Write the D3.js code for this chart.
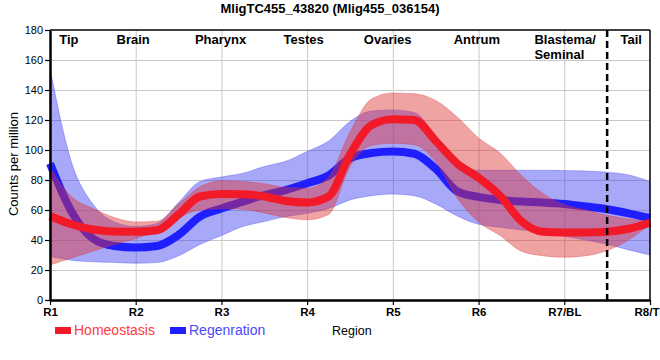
<!DOCTYPE html>
<html><head><meta charset="utf-8">
<script src="https://cdn.jsdelivr.net/npm/d3@7"></script>
<style>
body{margin:0;background:#fff}
svg{display:block;font-family:"Liberation Sans",Arial,Helvetica,sans-serif}
</style>
</head><body>
<svg id="chart" width="660" height="360"></svg>
<script>
// ---- data ----
const title = "MligTC455_43820 (Mlig455_036154)";
const regionTicks = [1, 2, 3, 4, 5, 6, 7, 8];
const regionTickLabels = ["R1", "R2", "R3", "R4", "R5", "R6", "R7/BL", "R8/TL"];
const yTicks = [0, 20, 40, 60, 80, 100, 120, 140, 160, 180];
const organNames = ["Tip", "Brain", "Pharynx", "Testes", "Ovaries", "Antrum", "Blastema/|Seminal", "Tail"];
const organAt = [1.22, 1.97, 2.99, 3.96, 4.94, 5.98, 7.01, 7.78];
const tailBoundary = 7.5;

const positions = [1, 1.25, 1.5, 1.75, 2, 2.25, 2.5, 2.75, 3, 3.25, 3.5, 3.75, 4, 4.25, 4.5, 4.75,
                   5, 5.25, 5.5, 5.75, 6, 6.25, 6.5, 6.75, 7, 7.25, 7.5, 7.75, 8];

const homeoMean  = [56, 50.5, 47, 45.7, 45.5, 46.5, 57, 69, 70.7, 70.5, 69, 66, 65, 69, 97, 116.5,
                    120.5, 120, 106, 91, 81.5, 69.5, 52.5, 45.5, 45, 45, 45.5, 47.5, 51.5];
const homeoUpper = [88, 69, 61, 55, 52, 52.5, 64, 75.5, 79.5, 79, 77.5, 75, 74.5, 82, 112, 134,
                    138, 137.5, 133, 122, 108, 98, 83, 71, 63.5, 60, 56.5, 54, 52.5];
const homeoLower = [23.3, 28, 32.5, 37, 41, 46.5, 55, 60, 61, 60.5, 58, 55, 53.5, 57, 89, 103,
                    104.5, 103.5, 92, 68, 52, 43, 32.5, 29.5, 28.5, 29.5, 33, 40, 50.5];

const regenMean  = [91, 59, 41, 36, 35, 36, 43.4, 55.6, 61, 65.6, 70, 73.3, 77.8, 83, 94.4, 98,
                    99, 97.5, 87.5, 72.5, 68.7, 66.7, 65.6, 65, 64, 62.3, 60.5, 57.8, 54.5];
const regenUpper = [154.5, 92, 64, 52, 49, 51, 65, 79, 82, 84.5, 89, 92.5, 99, 106, 119, 126,
                    126.7, 125, 109, 89, 86.5, 86.5, 86.5, 86.5, 86.3, 86, 85.2, 83.4, 79];
const regenLower = [29, 26.5, 25.5, 25, 24.5, 25, 29.5, 37, 43, 49, 52.3, 55.6, 57.8, 61, 66.7, 69.5,
                    70.6, 69.5, 64, 56, 50.5, 48.5, 46.7, 45, 42.5, 40, 37.2, 33.4, 30];

const seriesNames = ["Homeostasis", "Regenration"];

// ---- layout ----
const svg = d3.select("#chart");
const L = 50, R = 650, T = 30, B = 300;
const x = d3.scaleLinear().domain([1, 8]).range([L, R]);
const y = d3.scaleLinear().domain([0, 180]).range([B, T]);

const redLine = "#f21a28", blueLine = "#1e1eff";
const redFill = "rgb(222,52,52)", blueFill = "rgb(62,62,242)";

// gridlines
svg.append("g").attr("transform", `translate(0,${B})`)
  .call(d3.axisBottom(x).tickValues(regionTicks.slice(1, -1)).tickSize(-(B - T)).tickFormat(""))
  .call(g => g.select(".domain").remove())
  .call(g => g.selectAll("line").attr("stroke", "#c9c9c9").attr("stroke-width", 1));
svg.append("g").attr("transform", `translate(${L},0)`)
  .call(d3.axisLeft(y).tickValues(yTicks.slice(1, -1)).tickSize(-(R - L)).tickFormat(""))
  .call(g => g.select(".domain").remove())
  .call(g => g.selectAll("line").attr("stroke", "#c9c9c9").attr("stroke-width", 1));

// series helpers
function rows(mean, lo, hi) {
  return positions.map((p, i) => ({p, m: mean[i], lo: lo[i], hi: hi[i]}));
}
const area = d3.area().curve(d3.curveMonotoneX)
  .x(d => x(d.p)).y0(d => y(d.lo)).y1(d => y(d.hi));
const line = d3.line().curve(d3.curveMonotoneX)
  .x(d => x(d.p)).y(d => y(d.m));

const regen = rows(regenMean, regenLower, regenUpper);
const homeo = rows(homeoMean, homeoLower, homeoUpper);

svg.append("path").datum(regen).attr("d", area)
  .attr("fill", blueFill).attr("fill-opacity", 0.45)
  .attr("stroke", blueFill).attr("stroke-opacity", 0.35).attr("stroke-width", 1);
svg.append("path").datum(regen).attr("d", line)
  .attr("fill", "none").attr("stroke", blueLine).attr("stroke-width", 8);

svg.append("path").datum(homeo).attr("d", area)
  .attr("fill", redFill).attr("fill-opacity", 0.45)
  .attr("stroke", redFill).attr("stroke-opacity", 0.35).attr("stroke-width", 1);
svg.append("path").datum(homeo).attr("d", line)
  .attr("fill", "none").attr("stroke", redLine).attr("stroke-width", 8);

// dashed boundary
svg.append("line")
  .attr("x1", x(tailBoundary)).attr("x2", x(tailBoundary))
  .attr("y1", T).attr("y2", B + 5)
  .attr("stroke", "#000").attr("stroke-width", 2.5).attr("stroke-dasharray", "7,4");

// frame (top and right)
svg.append("line").attr("x1", L).attr("x2", R).attr("y1", T).attr("y2", T)
  .attr("stroke", "#000").attr("stroke-width", 1.5);
svg.append("line").attr("x1", R).attr("x2", R).attr("y1", T).attr("y2", B)
  .attr("stroke", "#000").attr("stroke-width", 1.5);

// axes
svg.append("g").attr("transform", `translate(0,${B})`)
  .call(d3.axisBottom(x).tickValues(regionTicks).tickFormat((d, i) => regionTickLabels[i])
        .tickSize(5).tickSizeOuter(0).tickPadding(3))
  .call(g => g.select(".domain").attr("stroke-width", 2.5))
  .call(g => g.selectAll(".tick line").attr("stroke-width", 1.2))
  .call(g => g.selectAll("text").attr("font-size", 11.5).attr("font-weight", "bold")
        .attr("fill", "#000").attr("font-family", null));
svg.append("g").attr("transform", `translate(${L},0)`)
  .call(d3.axisLeft(y).tickValues(yTicks).tickSize(5).tickSizeOuter(0).tickPadding(2))
  .call(g => g.select(".domain").attr("stroke-width", 2.5))
  .call(g => g.selectAll(".tick line").attr("stroke-width", 1.2))
  .call(g => g.selectAll("text").attr("font-size", 11).attr("fill", "#000").attr("font-family", null));

// title
svg.append("text").attr("x", 330).attr("y", 13).attr("text-anchor", "middle")
  .attr("font-size", 13).attr("font-weight", "bold").text(title);

// organ labels
organNames.forEach((n, i) => {
  const parts = n.split("|");
  const t = svg.append("text").attr("font-size", 13).attr("font-weight", "bold").attr("fill", "#000");
  t.attr("x", x(organAt[i])).attr("y", 44).attr("text-anchor", "middle").text(parts[0]);
  if (parts.length > 1) {
    const w = t.node().getComputedTextLength();
    svg.append("text").attr("font-size", 13).attr("font-weight", "bold")
      .attr("x", x(organAt[i]) - w / 2).attr("y", 59).text(parts[1]);
  }
});

// y label
svg.append("text").attr("transform", "translate(18,164) rotate(-90)")
  .attr("text-anchor", "middle").attr("font-size", 13).text("Counts per million");

// x label
svg.append("text").attr("x", 332).attr("y", 335).attr("font-size", 12.5).text("Region");

// legend
const legendColors = [redLine, blueLine];
const legendText = ["#ff3b3b", "#4a4aff"];
const legendX = [55, 170];
seriesNames.forEach((s, i) => {
  svg.append("rect").attr("x", legendX[i]).attr("y", 327).attr("width", 16).attr("height", 7)
    .attr("fill", legendColors[i]);
  svg.append("text").attr("x", legendX[i] + 19).attr("y", 335).attr("font-size", 14)
    .attr("fill", legendText[i]).text(s);
});
</script>
</body></html>
